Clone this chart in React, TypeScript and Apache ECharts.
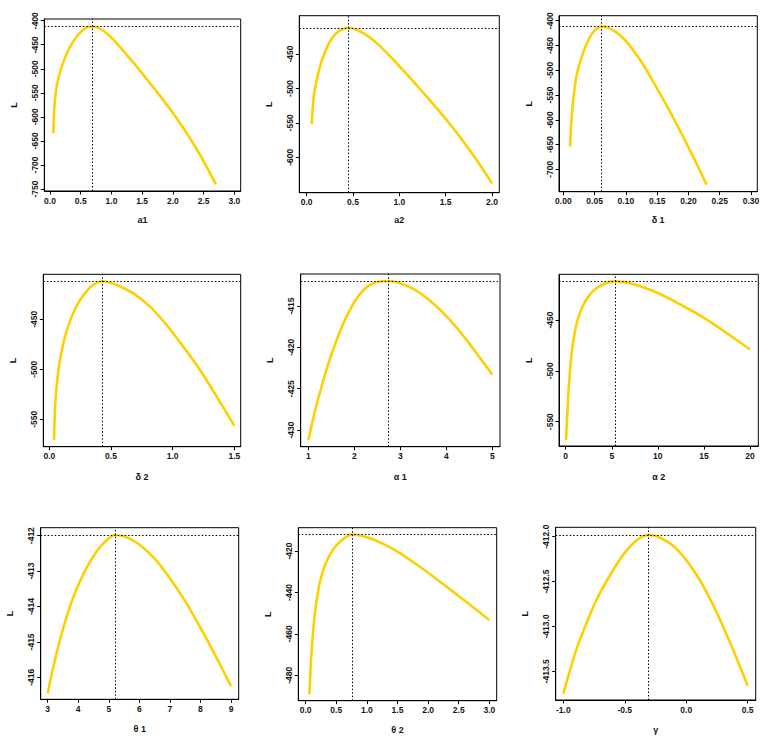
import React, { useEffect, useRef } from "react";
import * as echarts from "echarts";

// ---- data: profile log-likelihood L against each parameter ----
const a1X = [0.054, 0.065, 0.081, 0.119, 0.19, 0.3, 0.434, 0.57, 0.68, 0.78, 0.88, 0.98, 1.1, 1.25, 1.4, 1.6, 1.8, 2.0, 2.2, 2.4, 2.55, 2.7];
const a1L = [-634, -595, -565, -530, -496, -461, -433, -416, -411.98, -414.5, -422, -433, -449.2, -471, -493.8, -525.4, -558, -592, -629, -670, -703.8, -740.5];

const a2X = [0.054, 0.072, 0.09, 0.144, 0.19, 0.26, 0.34, 0.45, 0.55, 0.65, 0.75, 0.863, 1.03, 1.205, 1.37, 1.529, 1.67, 1.8, 1.9, 2.0];
const a2L = [-551.6, -516.8, -500, -468, -450, -429.7, -417.6, -411.98, -415.5, -423, -433.5, -448, -472, -498, -523.5, -549, -573, -597.5, -617, -638];

const d1X = [0.0107, 0.0133, 0.017, 0.0213, 0.0293, 0.04, 0.0506, 0.0623, 0.072, 0.082, 0.092, 0.102, 0.112, 0.122, 0.132, 0.145, 0.158, 0.171, 0.184, 0.197, 0.21, 0.22, 0.229];
const d1L = [-654, -594, -547, -510, -473, -439, -419, -411.98, -414.5, -421, -431, -444, -460, -478, -498, -526, -555, -585, -616, -648, -681, -707, -731];

const d2X = [0.038, 0.046, 0.059, 0.086, 0.127, 0.181, 0.249, 0.33, 0.38, 0.43, 0.546, 0.681, 0.816, 0.951, 1.086, 1.222, 1.357, 1.5];
const d2L = [-570.7, -540.7, -517.3, -490.7, -467.3, -447.3, -430.7, -418, -413.8, -411.98, -415.7, -424, -437.3, -455.7, -477.3, -500.7, -527.3, -556.3];

const al1X = [1.0, 1.15, 1.3, 1.5, 1.7, 1.9, 2.1, 2.3, 2.5, 2.74, 3.0, 3.3, 3.6, 3.9, 4.2, 4.5, 4.75, 5.0];
const al1L = [-431.2, -427.6, -424.5, -420.9, -417.9, -415.5, -413.7, -412.6, -412.1, -411.98, -412.25, -413.0, -414.15, -415.65, -417.45, -419.55, -421.4, -423.3];

const al2X = [0.036, 0.15, 0.3, 0.45, 0.62, 0.85, 1.19, 1.74, 2.46, 3.36, 4.45, 5.39, 7.5, 10, 12.5, 15, 17.5, 20];
const al2L = [-568, -547, -522, -502, -485, -469.5, -453.3, -438.5, -427, -418.5, -413.3, -411.98, -415, -423.5, -435, -448, -463, -479];

const th1X = [3.0, 3.2, 3.4, 3.6, 3.8, 4.0, 4.3, 4.6, 4.9, 5.2, 5.6, 6.0, 6.5, 7.0, 7.5, 8.0, 8.5, 9.0];
const th1L = [-416.45, -415.65, -414.95, -414.35, -413.83, -413.4, -412.87, -412.45, -412.15, -411.98, -412.05, -412.25, -412.65, -413.2, -413.85, -414.6, -415.4, -416.25];

const th2X = [0.06, 0.082, 0.109, 0.142, 0.18, 0.234, 0.316, 0.425, 0.56, 0.762, 1.0, 1.25, 1.5, 1.75, 2.0, 2.5, 3.0];
const th2L = [-489.1, -475.8, -463.5, -452.5, -443.8, -434.8, -426.8, -420.3, -415.5, -411.98, -413.4, -416.3, -420.3, -425.2, -430.5, -441.7, -453.3];

const gX = [-1.0, -0.946, -0.892, -0.81, -0.729, -0.62, -0.512, -0.403, -0.308, -0.2, -0.1, 0.0, 0.1, 0.2, 0.3, 0.4, 0.5];
const gL = [-413.75, -413.49, -413.25, -412.96, -412.7, -412.43, -412.2, -412.04, -411.98, -412.02, -412.11, -412.26, -412.46, -412.71, -413.0, -413.32, -413.66];

// maximum of L and the maximising values
const maxL = -411.98;
const hats = [0.68, 0.45, 0.0623, 0.43, 2.74, 5.39, 5.2, 0.762, -0.308];

// tick labels
const a1Ticks = [0, 0.5, 1, 1.5, 2, 2.5, 3];
const a1LTicks = [-400, -450, -500, -550, -600, -650, -700, -750];
const a2Ticks = [0, 0.5, 1, 1.5, 2];
const a2LTicks = [-450, -500, -550, -600];
const d1Ticks = [0, 0.05, 0.1, 0.15, 0.2, 0.25, 0.3];
const d1LTicks = [-400, -450, -500, -550, -600, -650, -700];
const d2Ticks = [0, 0.5, 1, 1.5];
const d2LTicks = [-450, -500, -550];
const al1Ticks = [1, 2, 3, 4, 5];
const al1LTicks = [-415, -420, -425, -430];
const al2Ticks = [0, 5, 10, 15, 20];
const al2LTicks = [-450, -500, -550];
const th1Ticks = [3, 4, 5, 6, 7, 8, 9];
const th1LTicks = [-412, -413, -414, -415, -416];
const th2Ticks = [0, 0.5, 1, 1.5, 2, 2.5, 3];
const th2LTicks = [-420, -440, -460, -480];
const gTicks = [-1, -0.5, 0, 0.5];
const gLTicks = [-412, -412.5, -413, -413.5];

const titles = ["a1", "a2", "δ 1", "δ 2", "α 1", "α 2", "θ 1", "θ 2", "γ"];

// ---- layout (page pixels): box [left, right, top, bottom], axis calibration [v1, px1, v2, px2] ----
const layout = [
  { box: [44.3, 240.7, 19, 191], xCal: [0, 50, 3, 234.33], yCal: [-400, 20.67, -750, 189], xDec: 1, yDec: 0, gap: 24 },
  { box: [299.3, 499.3, 15.7, 192.7], xCal: [0, 306.67, 2, 492], yCal: [-450, 54, -600, 157.33], xDec: 1, yDec: 0, gap: 23 },
  { box: [559, 757.3, 15.7, 191.7], xCal: [0, 563.33, 0.3, 751], yCal: [-400, 20.67, -700, 169.33], xDec: 2, yDec: 0, gap: 24 },
  { box: [43.3, 240.7, 274.3, 446.7], xCal: [0, 49.33, 1.5, 234.33], yCal: [-450, 319.33, -550, 419.33], xDec: 1, yDec: 0, gap: 26 },
  { box: [300.7, 500, 274, 446.7], xCal: [1, 308.33, 5, 492.33], yCal: [-415, 306, -430, 430], xDec: 0, yDec: 0, gap: 26 },
  { box: [559, 758.3, 274.3, 446], xCal: [0, 565.67, 20, 750], yCal: [-450, 320, -550, 421.67], xDec: 0, yDec: 0, gap: 26 },
  { box: [40.7, 238.7, 527.7, 699.3], xCal: [3, 47.67, 9, 231], yCal: [-412, 535.67, -416, 677.33], xDec: 0, yDec: 0, gap: 25.5 },
  { box: [298.3, 496.7, 527.7, 700.7], xCal: [0, 305.67, 3, 489.33], yCal: [-420, 551, -480, 675.33], xDec: 1, yDec: 0, gap: 25 },
  { box: [555.7, 755.7, 527.3, 700], xCal: [-1, 563.33, 0.5, 747.67], yCal: [-412, 536.67, -413.5, 671.33], xDec: 1, yDec: 1, gap: 25.5 },
];

const series = [
  [a1X, a1L], [a2X, a2L], [d1X, d1L],
  [d2X, d2L], [al1X, al1L], [al2X, al2L],
  [th1X, th1L], [th2X, th2L], [gX, gL],
];
const xTicks = [a1Ticks, a2Ticks, d1Ticks, d2Ticks, al1Ticks, al2Ticks, th1Ticks, th2Ticks, gTicks];
const yTicks = [a1LTicks, a2LTicks, d1LTicks, d2LTicks, al1LTicks, al2LTicks, th1LTicks, th2LTicks, gLTicks];

const FONT = '"Liberation Sans", Arial, Helvetica, sans-serif';
const INK = "#141414";

function at(cal: number[], px: number) {
  const [v1, p1, v2, p2] = cal;
  return v1 + ((px - p1) * (v2 - v1)) / (p2 - p1);
}

export default function App() {
  const ref = useRef<HTMLDivElement>(null);
  useEffect(() => {
    if (!ref.current) return;
    const chart = echarts.init(ref.current, undefined, { renderer: "svg" });
    const grids: any[] = [];
    const xAxes: any[] = [];
    const yAxes: any[] = [];
    const ser: any[] = [];
    layout.forEach((p, i) => {
      const [l, r, t, b] = p.box;
      grids.push({
        left: l, top: t, width: r - l, height: b - t,
        show: true, borderColor: "#000", borderWidth: 1, backgroundColor: "transparent",
        containLabel: false,
      });
      const labelStyle = { fontSize: 8.5, fontWeight: "bold", color: INK, fontFamily: FONT };
      xAxes.push({
        gridIndex: i, type: "value",
        min: at(p.xCal, l), max: at(p.xCal, r),
        axisLine: { show: true, onZero: false, lineStyle: { color: "#000", width: 1 } },
        axisTick: { show: true, length: 3.5, customValues: xTicks[i], lineStyle: { color: "#000", width: 1 } },
        axisLabel: { ...labelStyle, margin: 5, customValues: xTicks[i], formatter: (v: number) => Number(v).toFixed(p.xDec) },
        splitLine: { show: false },
        name: titles[i], nameLocation: "middle", nameGap: p.gap,
        nameTextStyle: { fontSize: 9, fontWeight: "bold", color: INK, fontFamily: FONT },
      });
      yAxes.push({
        gridIndex: i, type: "value",
        min: at(p.yCal, b), max: at(p.yCal, t),
        axisLine: { show: true, onZero: false, lineStyle: { color: "#000", width: 1 } },
        axisTick: { show: true, length: 3.5, customValues: yTicks[i], lineStyle: { color: "#000", width: 1 } },
        axisLabel: { ...labelStyle, margin: 5, rotate: 90, customValues: yTicks[i], formatter: (v: number) => Number(v).toFixed(p.yDec) },
        splitLine: { show: false },
        name: "L", nameLocation: "middle", nameGap: 26, nameRotate: 90,
        nameTextStyle: { fontSize: 9, fontWeight: "bold", color: INK, fontFamily: FONT },
      });
      const [xs, ys] = series[i];
      ser.push({
        type: "line", xAxisIndex: i, yAxisIndex: i,
        data: xs.map((x, j) => [x, ys[j]]),
        showSymbol: false, symbol: "none", smooth: 0.3, silent: true,
        lineStyle: { color: "#FFD000", width: 2.6 },
        markLine: {
          silent: true, symbol: ["none", "none"], label: { show: false },
          lineStyle: { color: "#000", type: [1.5, 2], width: 1 },
          data: [{ xAxis: hats[i] }, { yAxis: maxL }],
        },
      });
    });
    chart.setOption({
      animation: false,
      backgroundColor: "#fff",
      textStyle: { fontFamily: FONT },
      grid: grids, xAxis: xAxes, yAxis: yAxes, series: ser,
    });
    return () => chart.dispose();
  }, []);
  return <div ref={ref} style={{ position: "fixed", left: 0, top: 0, width: 775, height: 743 }} />;
}
